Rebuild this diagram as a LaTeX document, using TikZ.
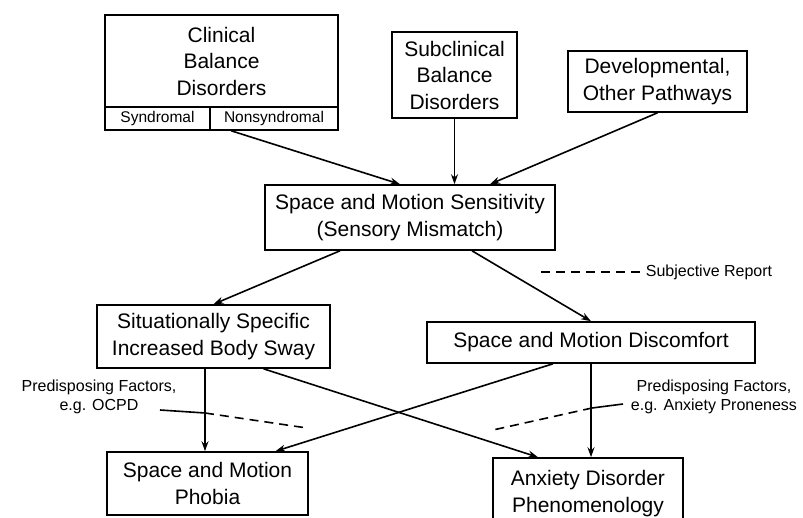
\documentclass[tikz,border=0pt]{standalone}
\usepackage{fontspec}
\setmainfont{Liberation Sans}
\usetikzlibrary{arrows.meta,calc}
\tikzset{
  box/.style={draw, line width=1.6pt, align=center, inner sep=0pt, font=\fontsize{21}{26.5}\selectfont},
  cell/.style={draw, line width=1.6pt, align=center, inner sep=0pt, font=\fontsize{15.5}{17}\selectfont},
  note/.style={align=center, inner sep=0pt, font=\fontsize{16}{19}\selectfont},
  conn/.style={line width=1.6pt},
  arr/.style={line width=1.6pt, -{Stealth[length=10pt,width=7pt]}},
  dsh/.style={line width=1.6pt, dash pattern=on 9pt off 6pt},
}
\begin{document}
\begin{tikzpicture}[x=1pt,y=-1pt]
\useasboundingbox (0,0) rectangle (803,518);
% boxes
\node[box, minimum width=233pt, minimum height=92pt] (clin) at (221.5,61) {Clinical\\Balance\\Disorders};
\node[cell, minimum width=105pt, minimum height=23pt] (syn) at (157.5,118.5) {Syndromal};
\node[cell, minimum width=128pt, minimum height=23pt] (nonsyn) at (274,118.5) {Nonsyndromal};
\node[box, minimum width=125pt, minimum height=86pt] (sub) at (454.5,75) {Subclinical\\Balance\\Disorders};
\node[box, minimum width=179pt, minimum height=61pt] (dev) at (657.5,81.5) {Developmental,\\Other Pathways};
\node[box, minimum width=290pt, minimum height=65pt] (sens) at (410,217.5) {Space and Motion Sensitivity\\(Sensory Mismatch)};
\node[box, minimum width=233pt, minimum height=63pt] (sway) at (213.5,336.5) {Situationally Specific\\Increased Body Sway};
\node[box, minimum width=328pt, minimum height=41pt] (disc) at (591,342.5) {Space and Motion Discomfort};
\node[box, minimum width=201pt, minimum height=63pt] (phob) at (207.5,483.5) {Space and Motion\\Phobia};
\node[box, minimum width=190pt, minimum height=67pt, text depth=0pt] (anx) at (588,491.5) {Anxiety Disorder\\Phenomenology};
% notes
\node[note] (subj) at (709,272) {Subjective Report};
\node[note] (lpf) at (99,397) {Predisposing Factors,\\e.g. OCPD};
\node[note] (rpf) at (714,397) {Predisposing Factors,\\e.g. Anxiety Proneness};
% coordinates for free ends
\coordinate (subjend) at (537,272);
\coordinate (lpfA) at (160,410);
\coordinate (lpfB) at (205,413);
\coordinate (lpfC) at (307,428);
\coordinate (rpfA) at (623,404);
\coordinate (rpfB) at (592,408);
\coordinate (rpfC) at (493,430);
% top connectors
\draw[arr] ([xshift=22pt]nonsyn.south west) -- ([xshift=-10pt]sens.north);
\draw[arr] (sub.south) -- (sub.south |- sens.north);
\draw[arr] (dev.south) -- ([xshift=80pt]sens.north);
% middle
\draw[arr] ([xshift=-70pt]sens.south) -- (sway.north);
\draw[arr] ([xshift=62pt]sens.south) -- (disc.north);
\draw[dsh] ([xshift=-6pt]subj.west) -- (subjend);
% lower
\draw[arr] ([xshift=-8.5pt]sway.south) -- ([xshift=-8.5pt]sway.south |- phob.north);
\draw[arr] (disc.south) -- (disc.south |- anx.north);
\draw[arr] ([xshift=50pt]sway.south) -- ([xshift=-50pt]anx.north);
\draw[arr] ([xshift=-38pt]disc.south) -- ([xshift=68pt]phob.north);
% predisposing factors
\draw[conn] (lpfA) -- (lpfB);
\draw[dsh] (lpfB) -- (lpfC);
\draw[conn] (rpfA) -- (rpfB);
\draw[dsh] (rpfB) -- (rpfC);
\end{tikzpicture}
\end{document}
